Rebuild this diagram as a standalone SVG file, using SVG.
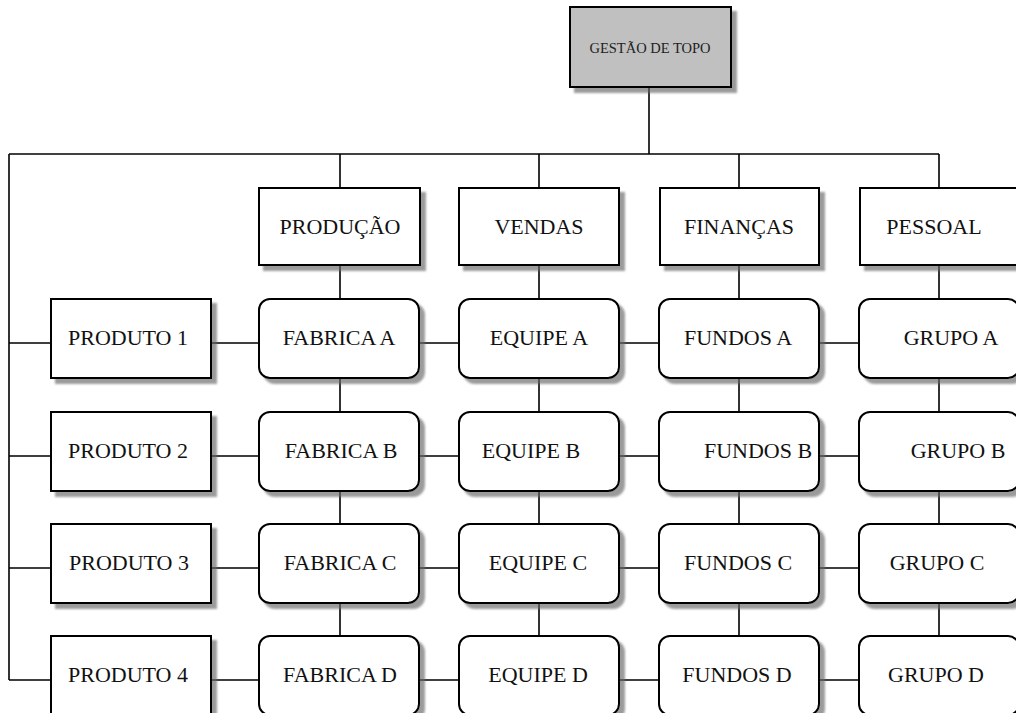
<svg xmlns="http://www.w3.org/2000/svg" width="1016" height="713" viewBox="0 0 1016 713">
  <style>
    .bg { fill: #ffffff; }
    .link { stroke: #000; stroke-width: 1.6; fill: none; }
    .box { fill: #ffffff; stroke: #000; stroke-width: 2; filter: url(#shadow); }
    .top { fill: #c0c0c0; stroke: #000; stroke-width: 2; filter: url(#shadow); }
    .lbl { font-family: "Liberation Serif", "Times New Roman", serif; font-size: 22px; fill: #111; text-anchor: middle; }
    .lbl-sm { font-family: "Liberation Serif", "Times New Roman", serif; font-size: 14.5px; fill: #222; text-anchor: middle; }
  </style>
  <defs>
    <filter id="shadow" x="-10%" y="-10%" width="130%" height="130%">
      <feDropShadow dx="5" dy="5" stdDeviation="1.3" flood-color="#666" flood-opacity="0.65"/>
    </filter>
  </defs>

  <rect class="bg" x="0" y="0" width="1016" height="713"/>

  <!-- connectors -->
  <g id="connectors">
    <!-- trunk from top management -->
    <path class="link" d="M649 87 V154"/>
    <path class="link" d="M9 154 H939"/>
    <path class="link" d="M9 154 V680"/>
    <!-- drops to department headers -->
    <path class="link" d="M340 154 V188 M539 154 V188 M739 154 V188 M939 154 V188"/>
    <!-- headers to first row -->
    <path class="link" d="M340 265 V299 M539 265 V299 M739 265 V299 M939 265 V299"/>
    <!-- vertical links between rows -->
    <path class="link" d="M340 378 V412 M340 491 V524 M340 603 V636"/>
    <path class="link" d="M539 378 V412 M539 491 V524 M539 603 V636"/>
    <path class="link" d="M739 378 V412 M739 491 V524 M739 603 V636"/>
    <path class="link" d="M939 378 V412 M939 491 V524 M939 603 V636"/>
    <!-- horizontal links along each row -->
    <path class="link" d="M9 343 H51 M211 343 H259 M419 343 H459 M619 343 H659 M819 343 H859"/>
    <path class="link" d="M9 456 H51 M211 456 H259 M419 456 H459 M619 456 H659 M819 456 H859"/>
    <path class="link" d="M9 568 H51 M211 568 H259 M419 568 H459 M619 568 H659 M819 568 H859"/>
    <path class="link" d="M9 680 H51 M211 680 H259 M419 680 H459 M619 680 H659 M819 680 H859"/>
  </g>

  <!-- top management -->
  <g id="gestao-de-topo">
    <rect class="top" x="570" y="7" width="161" height="80"/>
    <text class="lbl-sm" x="650" y="53">GESTÃO DE TOPO</text>
  </g>

  <!-- department headers -->
  <g id="producao">
    <rect class="box" x="259" y="188" width="161" height="77"/>
    <text class="lbl" x="340" y="234">PRODUÇÃO</text>
  </g>
  <g id="vendas">
    <rect class="box" x="459" y="188" width="160" height="77"/>
    <text class="lbl" x="539" y="234">VENDAS</text>
  </g>
  <g id="financas">
    <rect class="box" x="660" y="188" width="159" height="77"/>
    <text class="lbl" x="739" y="234">FINANÇAS</text>
  </g>
  <g id="pessoal">
    <rect class="box" x="860" y="188" width="160" height="77"/>
    <text class="lbl" x="934" y="234">PESSOAL</text>
  </g>

  <!-- row 1 -->
  <g id="produto-1">
    <rect class="box" x="51" y="299" width="160" height="79"/>
    <text class="lbl" x="128" y="345">PRODUTO 1</text>
  </g>
  <g id="fabrica-a">
    <rect class="box" x="259" y="299" width="160" height="79" rx="11"/>
    <text class="lbl" x="339" y="345">FABRICA A</text>
  </g>
  <g id="equipe-a">
    <rect class="box" x="459" y="299" width="160" height="79" rx="11"/>
    <text class="lbl" x="539" y="345">EQUIPE A</text>
  </g>
  <g id="fundos-a">
    <rect class="box" x="659" y="299" width="160" height="79" rx="11"/>
    <text class="lbl" x="738" y="345">FUNDOS A</text>
  </g>
  <g id="grupo-a">
    <rect class="box" x="859" y="299" width="160" height="79" rx="11"/>
    <text class="lbl" x="951" y="345">GRUPO A</text>
  </g>

  <!-- row 2 -->
  <g id="produto-2">
    <rect class="box" x="51" y="412" width="160" height="79"/>
    <text class="lbl" x="128" y="458">PRODUTO 2</text>
  </g>
  <g id="fabrica-b">
    <rect class="box" x="259" y="412" width="160" height="79" rx="11"/>
    <text class="lbl" x="341" y="458">FABRICA B</text>
  </g>
  <g id="equipe-b">
    <rect class="box" x="459" y="412" width="160" height="79" rx="11"/>
    <text class="lbl" x="531" y="458">EQUIPE B</text>
  </g>
  <g id="fundos-b">
    <rect class="box" x="659" y="412" width="160" height="79" rx="11"/>
    <text class="lbl" x="758" y="458">FUNDOS B</text>
  </g>
  <g id="grupo-b">
    <rect class="box" x="859" y="412" width="160" height="79" rx="11"/>
    <text class="lbl" x="958" y="458">GRUPO B</text>
  </g>

  <!-- row 3 -->
  <g id="produto-3">
    <rect class="box" x="51" y="524" width="160" height="79"/>
    <text class="lbl" x="129" y="570">PRODUTO 3</text>
  </g>
  <g id="fabrica-c">
    <rect class="box" x="259" y="524" width="160" height="79" rx="11"/>
    <text class="lbl" x="340" y="570">FABRICA C</text>
  </g>
  <g id="equipe-c">
    <rect class="box" x="459" y="524" width="160" height="79" rx="11"/>
    <text class="lbl" x="538" y="570">EQUIPE C</text>
  </g>
  <g id="fundos-c">
    <rect class="box" x="659" y="524" width="160" height="79" rx="11"/>
    <text class="lbl" x="738" y="570">FUNDOS C</text>
  </g>
  <g id="grupo-c">
    <rect class="box" x="859" y="524" width="160" height="79" rx="11"/>
    <text class="lbl" x="937" y="570">GRUPO C</text>
  </g>

  <!-- row 4 -->
  <g id="produto-4">
    <rect class="box" x="51" y="636" width="160" height="79"/>
    <text class="lbl" x="128" y="682">PRODUTO 4</text>
  </g>
  <g id="fabrica-d">
    <rect class="box" x="259" y="636" width="160" height="79" rx="11"/>
    <text class="lbl" x="340" y="682">FABRICA D</text>
  </g>
  <g id="equipe-d">
    <rect class="box" x="459" y="636" width="160" height="79" rx="11"/>
    <text class="lbl" x="538" y="682">EQUIPE D</text>
  </g>
  <g id="fundos-d">
    <rect class="box" x="659" y="636" width="160" height="79" rx="11"/>
    <text class="lbl" x="737" y="682">FUNDOS D</text>
  </g>
  <g id="grupo-d">
    <rect class="box" x="859" y="636" width="160" height="79" rx="11"/>
    <text class="lbl" x="936" y="682">GRUPO D</text>
  </g>
</svg>
